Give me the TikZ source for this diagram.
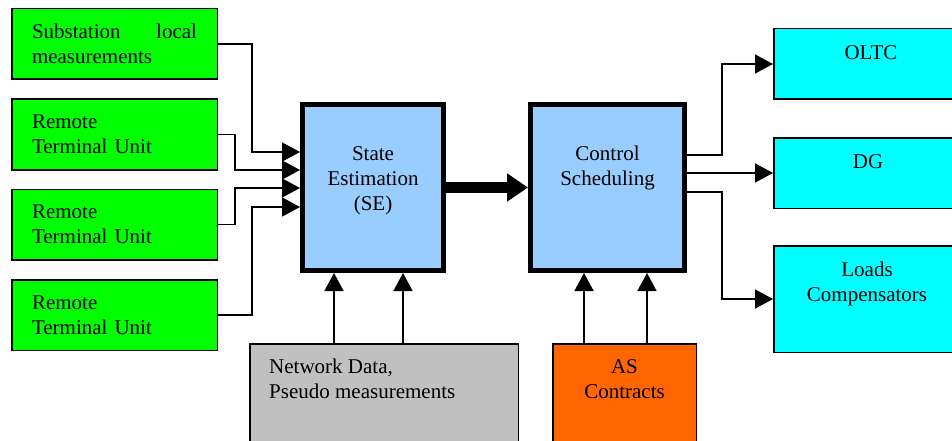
\documentclass[tikz,border=0pt]{standalone}
\usepackage{fontspec}
\setmainfont{Liberation Serif}
\newfontfamily\diagfont{Liberation Serif}
\usetikzlibrary{arrows.meta}
\definecolor{gfill}{HTML}{00FF00}
\definecolor{bfill}{HTML}{99CCFF}
\definecolor{grfill}{HTML}{C0C0C0}
\definecolor{ofill}{HTML}{FF6600}
\definecolor{cfill}{HTML}{00FFFF}
\tikzset{
  txt/.style={font=\diagfont\fontsize{21}{25}\selectfont, inner sep=0pt},
  greenbox/.style={txt, draw=black, line width=1.5pt, fill=gfill, minimum width=205.5pt, minimum height=70.5pt, align=left, text width=165pt, inner xsep=20pt},
  procbox/.style={draw=black, line width=5pt, fill=bfill, minimum height=166pt},
  outbox/.style={draw=black, line width=1.5pt, fill=cfill, minimum width=205.5pt},
  inbox/.style={draw=black, line width=1.5pt, minimum height=115.5pt},
  conn/.style={line width=1.5pt},
  arr/.style={conn, -{Triangle[length=18pt,width=19pt]}},
  bigarr/.style={line width=11pt, -{Triangle[length=21pt,width=27pt]}},
}
\begin{document}
\begin{tikzpicture}[x=1pt,y=-1pt]
\useasboundingbox (0,0) rectangle (952,441);
\clip (0,0) rectangle (952,441);
% left input boxes
\node[greenbox] (g1) at (114.5,44) {Substation\hfill local\\measurements};
\node[greenbox] (g2) at (114.5,134.5) {Remote\\Terminal Unit};
\node[greenbox] (g3) at (114.5,224.5) {Remote\\Terminal Unit};
\node[greenbox] (g4) at (114.5,315) {Remote\\Terminal Unit};
% processing boxes
\node[procbox, minimum width=141pt] (se) at (373,187.5) {};
\node[txt, anchor=north, align=center] (setx) at (373,146) {State\\Estimation\\(SE)};
\node[procbox, minimum width=154pt] (cs) at (607.5,187.5) {};
\node[txt, anchor=north, align=center] (cstx) at (607.5,146) {Control\\Scheduling};
% bottom boxes
\node[inbox, fill=grfill, minimum width=268.5pt] (nd) at (384,401.5) {};
\node[txt, anchor=north west, align=left] (ndtx) at (269,359) {Network Data,\\Pseudo measurements};
\node[inbox, fill=ofill, minimum width=143.5pt] (as) at (624.5,401.5) {};
\node[txt, anchor=north, align=center] (astx) at (624.5,359) {AS\\Contracts};
% output boxes
\node[outbox, minimum height=70.5pt] (oltc) at (876.5,64) {};
\node[txt, anchor=north] (oltctx) at (871,45) {OLTC};
\node[outbox, minimum height=70.5pt] (dg) at (876.5,173) {};
\node[txt, anchor=north] (dgtx) at (868,154) {DG};
\node[outbox, minimum height=106.5pt] (ld) at (876.5,299) {};
\node[txt, anchor=north, align=center] (ldtx) at (867,262) {Loads\\Compensators};
% left connectors
\coordinate (k1) at (252,152);
\coordinate (k2) at (235,170);
\coordinate (k3) at (235,188);
\coordinate (k4) at (252,207);
\draw[arr] (g1.east) -| (k1) -- (k1 -| se.west);
\draw[arr] (g2.east) -| (k2) -- (k2 -| se.west);
\draw[arr] (g3.east) -| (k3) -- (k3 -| se.west);
\draw[arr] (g4.east) -| (k4) -- (k4 -| se.west);
% main arrow
\draw[bigarr] (se.east) -- (cs.west);
% bottom connectors
\coordinate (b1) at (334,343);
\coordinate (b2) at (403,343);
\coordinate (b3) at (584,343);
\coordinate (b4) at (647,343);
\draw[arr] (b1 |- nd.north) -- (b1 |- se.south);
\draw[arr] (b2 |- nd.north) -- (b2 |- se.south);
\draw[arr] (b3 |- as.north) -- (b3 |- cs.south);
\draw[arr] (b4 |- as.north) -- (b4 |- cs.south);
% right connectors
\coordinate (r1) at (722,155);
\coordinate (r3) at (722,192);
\draw[arr] (r1 -| cs.east) -- (r1) |- (oltc.west);
\draw[arr] (cs.east |- dg.west) -- (dg.west);
\draw[arr] (r3 -| cs.east) -- (r3) |- (ld.west);
\end{tikzpicture}
\end{document}
